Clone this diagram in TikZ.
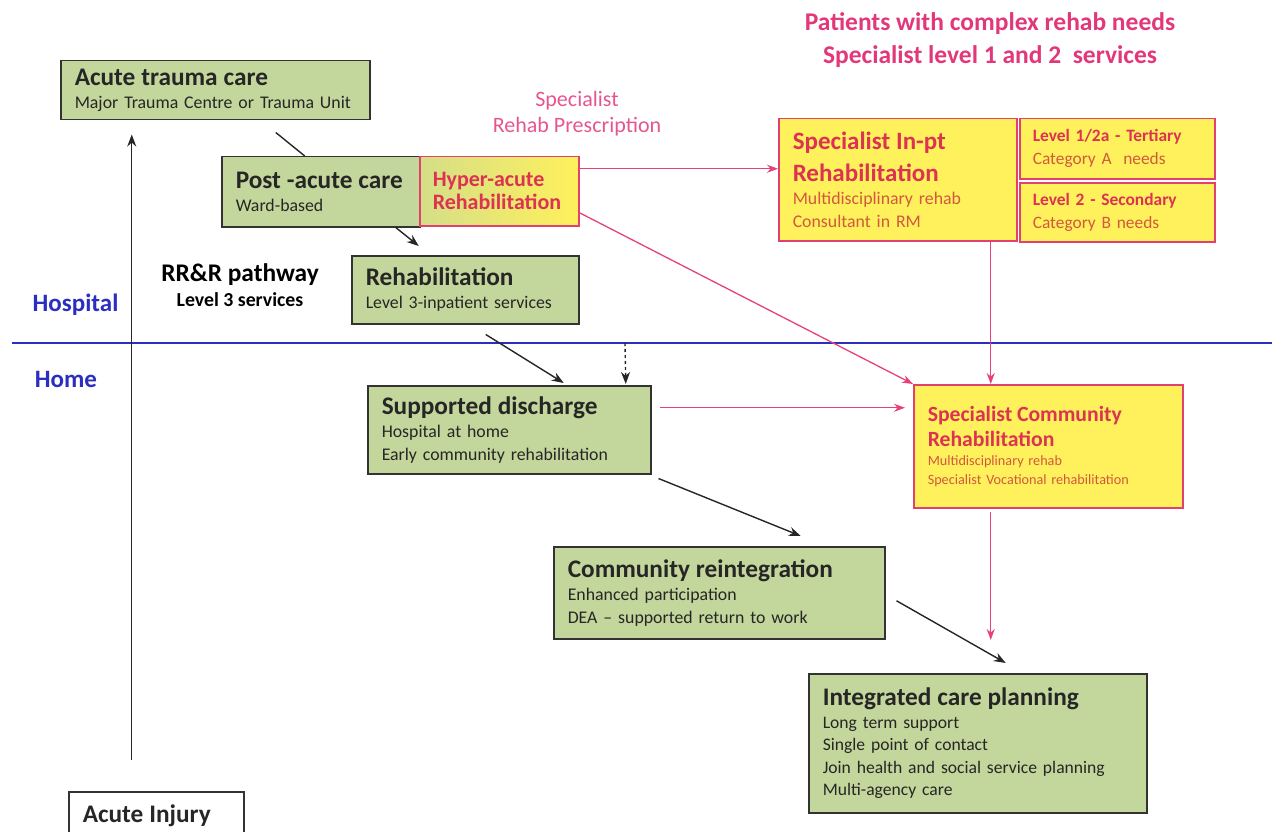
\documentclass[tikz,border=0pt]{standalone}
\usepackage{fontspec}
\setmainfont{Carlito}
\usetikzlibrary{arrows.meta}

\definecolor{boxgreen}{HTML}{C3D69B}
\definecolor{boxyellow}{HTML}{FFF15C}
\definecolor{rimpink}{HTML}{E2416F}
\definecolor{headred}{HTML}{DC3352}
\definecolor{subred}{HTML}{D2583E}
\definecolor{pinktext}{HTML}{E2387A}
\definecolor{linepink}{HTML}{E8407A}
\definecolor{divblue}{HTML}{2B2FBF}

\newcommand{\headfont}{\fontsize{25.3}{28}\selectfont\bfseries}
\newcommand{\subfont}{\fontsize{17.8}{23}\selectfont}

\tikzset{
  greenbox/.style={draw=black!80, line width=1.5pt, fill=boxgreen, anchor=north west,
    align=left, inner xsep=14pt, inner ysep=0pt, font=\subfont, text=black!85},
  yellowbox/.style={draw=rimpink, line width=1.5pt, fill=boxyellow, anchor=north west,
    align=left, inner xsep=14pt, inner ysep=0pt, font=\subfont, text=subred},
  arr/.style={-{Stealth[length=12pt,width=9pt]}, line width=1.4pt, draw=black!85},
  pinkarr/.style={arr, draw=linepink, -{Stealth[length=11pt,width=8pt]}, line width=1.3pt},
  sidelabel/.style={text=divblue, font=\fontsize{25}{28}\selectfont\bfseries}
}

\begin{document}
\begin{tikzpicture}[x=1pt,y=-1pt]
\useasboundingbox (0,0) rectangle (1272,832);

% hospital / home divider
\draw[divblue, line width=1.2pt] (12,343) -- (1272,343);
\coordinate (dashtop) at (625,343);
\node[sidelabel] (hosp) at (75.5,305) {Hospital};
\node[sidelabel] (home) at (66,379) {Home};

% headings
\node[text=pinktext, align=center, font=\fontsize{25.5}{33}\selectfont\bfseries] (title) at (990,40)
  {Patients with complex rehab needs\\Specialist level 1 and 2~ services};
\node[text=pinktext!85, align=center, font=\fontsize{22}{26}\selectfont] (prescr) at (577,114)
  {Specialist\\Rehab Prescription};
\node[align=center, font=\fontsize{19.8}{25}\selectfont\bfseries] (rrr) at (240,285)
  {{\fontsize{25.4}{25}\selectfont RR\&R pathway}\\Level 3 services};

% level 3 pathway
\node[greenbox, fill=white, minimum width=175pt, minimum height=49pt, text width=147pt] (injury) at (68,791)
  {{\headfont Acute Injury}};
\node[greenbox, minimum width=309pt, minimum height=59pt, text width=281pt] (trauma) at (60,60)
  {{\headfont Acute trauma care}\\Major Trauma Centre or Trauma Unit};
\node[greenbox, minimum width=198pt, minimum height=70pt, text width=170pt] (postacute) at (221,156)
  {{\headfont Post -acute care}\\Ward-based};
\node[yellowbox, left color=boxgreen!70!boxyellow, right color=boxyellow, inner xsep=13pt,
  minimum width=159pt, minimum height=69pt, text width=133pt, text=headred] (hyper) at (419,156)
  {\fontsize{22}{25}\selectfont\bfseries Hyper-acute\\Rehabilitation};
\node[greenbox, minimum width=227pt, minimum height=68pt, text width=199pt] (rehab) at (351,255)
  {{\headfont Rehabilitation}\\Level 3-inpatient services};
\node[greenbox, minimum width=283pt, minimum height=88pt, text width=255pt] (discharge) at (367,385)
  {{\headfont Supported discharge}\\Hospital at home\\Early community rehabilitation};
\node[greenbox, minimum width=331pt, minimum height=92pt, text width=303pt] (reint) at (553,546)
  {{\headfont Community reintegration}\\Enhanced participation\\DEA -- supported return to work};
\node[greenbox, minimum width=338pt, minimum height=139pt, text width=310pt, font=\fontsize{17.6}{22.5}\selectfont] (integ) at (808,673)
  {{\headfont Integrated care planning}\\Long term support\\Single point of contact\\Join health and social service planning\\Multi-agency care};

% specialist services
\node[yellowbox, minimum width=238pt, minimum height=122pt, text width=210pt] (inpt) at (778,118)
  {{\color{headred}\fontsize{25}{28}\selectfont\bfseries Specialist In-pt}\\[9pt]{\color{headred}\fontsize{25}{28}\selectfont\bfseries Rehabilitation}\\Multidisciplinary rehab\\Consultant in RM};
\node[yellowbox, minimum width=195pt, minimum height=60pt, text width=169pt, inner xsep=13pt,
  font=\fontsize{17.4}{23}\selectfont] (levela) at (1019,118)
  {{\color{headred}\bfseries Level 1/2a - Tertiary}\\Category A~ needs};
\node[yellowbox, minimum width=195pt, minimum height=59pt, text width=169pt, inner xsep=13pt,
  font=\fontsize{17.4}{23}\selectfont] (levelb) at (1019,182)
  {{\color{headred}\bfseries Level 2 - Secondary}\\Category B needs};
\node[yellowbox, minimum width=269pt, minimum height=123pt, text width=241pt,
  font=\fontsize{14.2}{19}\selectfont] (community) at (913,384)
  {{\color{headred}\fontsize{21.7}{25}\selectfont\bfseries Specialist Community}\\[6pt]{\color{headred}\fontsize{21.7}{25}\selectfont\bfseries Rehabilitation}\\Multidisciplinary rehab\\Specialist Vocational rehabilitation\\[46pt]};

% connectors
\draw[arr] ([xshift=-24.5pt,yshift=31pt]injury.north) -- ([xshift=-83.5pt,yshift=-14pt]trauma.south);
\draw[line width=1.4pt, black!85] ([xshift=60.5pt,yshift=-12pt]trauma.south) -- ([xshift=-16pt]postacute.north);
\draw[arr] ([xshift=75pt]postacute.south) -- ([xshift=-46.5pt,yshift=9pt]rehab.north);
\draw[arr] ([xshift=20.5pt,yshift=-10pt]rehab.south) -- ([xshift=54.5pt,yshift=2pt]discharge.north);
\draw[arr, dashed] (dashtop) -- ([xshift=116.5pt,yshift=1pt]discharge.north);
\draw[arr] ([xshift=7pt,yshift=-4pt]discharge.south east) -- ([xshift=81.5pt,yshift=10pt]reint.north);
\draw[arr] ([xshift=11pt,yshift=-8pt]reint.east) -- ([xshift=28pt,yshift=10pt]integ.north);

\draw[pinkarr] ([yshift=22.5pt]hyper.east) -- ([yshift=11pt]inpt.west);
\draw[pinkarr] ([yshift=-21.5pt]hyper.east) -- (community.north west);
\draw[pinkarr] ([xshift=93pt]inpt.south) -- ([xshift=-57.5pt]community.north);
\draw[pinkarr] ([xshift=8pt,yshift=22pt]discharge.east) -- ([xshift=-8pt,yshift=38.5pt]community.west);
\draw[pinkarr] ([xshift=-57.5pt,yshift=-3pt]community.south) -- ([xshift=13pt,yshift=33pt]integ.north);
\end{tikzpicture}
\end{document}
